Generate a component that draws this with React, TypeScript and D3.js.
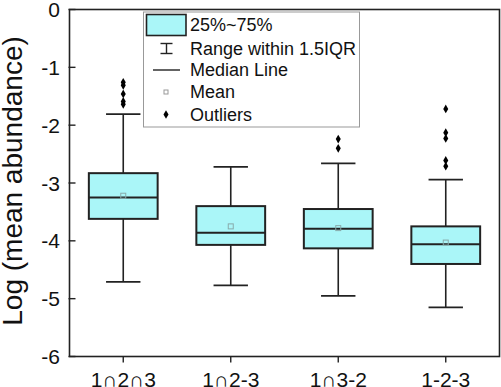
import * as d3 from 'd3';

// categories and box statistics
const groups = ['1∩2∩3', '1∩2-3', '1∩3-2', '1-2-3'];
const q1 = [-3.62, -4.07, -4.13, -4.4];
const median = [-3.25, -3.86, -3.79, -4.06];
const q3 = [-2.83, -3.4, -3.45, -3.75];
const means = [-3.22, -3.75, -3.78, -4.03];
const whiskerLow = [-4.71, -4.77, -4.95, -5.15];
const whiskerHigh = [-1.81, -2.72, -2.66, -2.94];
const outliers = [
	[-1.26, -1.31, -1.46, -1.59, -1.64],
	[],
	[-2.24, -2.4],
	[-1.72, -2.13, -2.23, -2.61, -2.71],
];
const yTicks = [0, -1, -2, -3, -4, -5, -6];
const legendLabels = ['25%~75%', 'Range within 1.5IQR', 'Median Line', 'Mean', 'Outliers'];

const W = 501;
const H = 387;
const margin = { top: 9.5, right: 1.5, bottom: 30.5, left: 69.5 };
const boxFill = '#aaf6f8';
const font = 'Arial, "Liberation Sans", "DejaVu Sans", sans-serif';

export default function App() {
	const x = d3
		.scaleBand()
		.domain(groups)
		.range([margin.left, W - margin.right])
		.padding(0);
	const y = d3.scaleLinear().domain([-6, 0]).range([H - margin.bottom, margin.top]);

	const boxW = x.bandwidth() * 0.64;
	const capW = boxW / 2;
	const outlierSym = d3.symbol().type(d3.symbolDiamond).size(22);

	// legend layout
	const lg = { x: 143.5, y: 12, w: 216, h: 115 };
	const rows = [25, 48.5, 70, 92, 114.5];

	return (
		<div style={{ position: 'absolute', left: 0, top: 0 }}>
			<svg width={W} height={H} style={{ display: 'block', fontFamily: font }}>
				<rect width={W} height={H} fill="#fff" />

				{/* boxes */}
				{groups.map((g, i) => {
					const cx = x(g)! + x.bandwidth() / 2;
					return (
						<g key={g}>
							<line x1={cx} x2={cx} y1={y(q3[i])} y2={y(whiskerHigh[i])} stroke="#222" strokeWidth={1.6} />
							<line x1={cx} x2={cx} y1={y(q1[i])} y2={y(whiskerLow[i])} stroke="#222" strokeWidth={1.6} />
							<line x1={cx - capW / 2} x2={cx + capW / 2} y1={y(whiskerHigh[i])} y2={y(whiskerHigh[i])} stroke="#222" strokeWidth={1.8} />
							<line x1={cx - capW / 2} x2={cx + capW / 2} y1={y(whiskerLow[i])} y2={y(whiskerLow[i])} stroke="#222" strokeWidth={1.8} />
							<rect
								x={cx - boxW / 2}
								y={y(q3[i])}
								width={boxW}
								height={y(q1[i]) - y(q3[i])}
								fill={boxFill}
								stroke="#222"
								strokeWidth={2}
							/>
							<line x1={cx - boxW / 2} x2={cx + boxW / 2} y1={y(median[i])} y2={y(median[i])} stroke="#222" strokeWidth={2} />
							<rect x={cx - 2.5} y={y(means[i]) - 2.5} width={5} height={5} fill="none" stroke="#8aa" strokeWidth={1} />
							{outliers[i].map((v, j) => (
								<path key={j} d={outlierSym()!} transform={`translate(${cx},${y(v)})`} fill="#000" />
							))}
						</g>
					);
				})}

				{/* frame */}
				<rect
					x={margin.left}
					y={margin.top}
					width={W - margin.left - margin.right}
					height={H - margin.top - margin.bottom}
					fill="none"
					stroke="#222"
					strokeWidth={1.6}
				/>

				{/* y axis */}
				{yTicks.map((t) => (
					<g key={t}>
						<line x1={margin.left - 1} x2={margin.left + 6} y1={y(t)} y2={y(t)} stroke="#222" strokeWidth={1.4} />
						<text x={60} y={y(t)} dy="0.36em" textAnchor="end" fontSize={21} fill="#111">
							{t === 0 ? '0' : `-${Math.abs(t)}`}
						</text>
					</g>
				))}
				<text
					transform={`translate(22,181) rotate(-90)`}
					textAnchor="middle"
					fontSize={28}
					fill="#111"
				>
					Log (mean abundance)
				</text>

				{/* x axis */}
				{groups.map((g) => {
					const cx = x(g)! + x.bandwidth() / 2;
					return (
						<g key={g}>
							<line x1={cx} x2={cx} y1={H - margin.bottom} y2={H - margin.bottom + 6} stroke="#222" strokeWidth={1.4} />
							<text x={cx} y={386.5} textAnchor="middle" fontSize={21} fill="#111">
								{g}
							</text>
						</g>
					);
				})}

				{/* legend */}
				<rect x={lg.x} y={lg.y} width={lg.w} height={lg.h} fill="#fff" stroke="#999" strokeWidth={1} />
				<rect x={146.5} y={14.5} width={39.5} height={21} fill={boxFill} stroke="#222" strokeWidth={1.6} />
				<line x1={166.5} x2={166.5} y1={rows[1] - 5} y2={rows[1] + 5} stroke="#222" strokeWidth={1.4} />
				<line x1={160.5} x2={172.5} y1={rows[1] - 5} y2={rows[1] - 5} stroke="#222" strokeWidth={1.4} />
				<line x1={160.5} x2={172.5} y1={rows[1] + 5} y2={rows[1] + 5} stroke="#222" strokeWidth={1.4} />
				<line x1={153} x2={180} y1={rows[2]} y2={rows[2]} stroke="#222" strokeWidth={1.4} />
				<rect x={164} y={rows[3] - 2} width={4} height={4} fill="none" stroke="#999" strokeWidth={1} />
				<path d={outlierSym()!} transform={`translate(166,${rows[4]})`} fill="#000" />
				{legendLabels.map((l, i) => (
					<text key={l} x={190} y={rows[i]} dy="0.36em" fontSize={18} fill="#111">
						{l}
					</text>
				))}
			</svg>
		</div>
	);
}
